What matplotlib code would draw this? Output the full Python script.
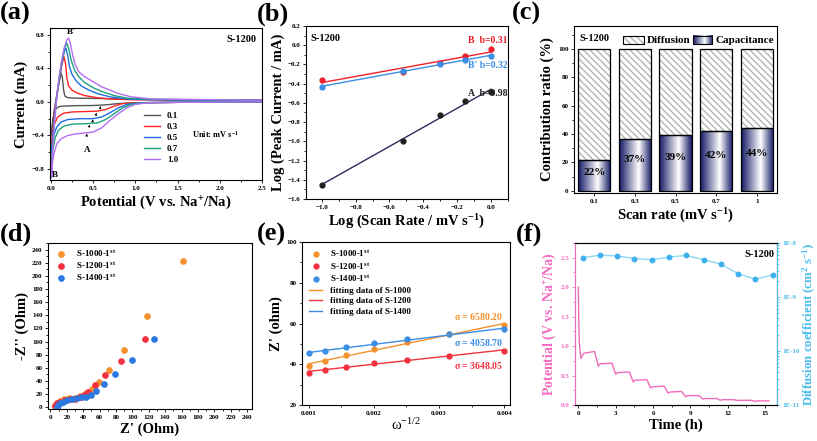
import numpy as np
import matplotlib.pyplot as plt
from matplotlib.colors import LinearSegmentedColormap
from matplotlib.patches import Rectangle
from matplotlib.ticker import MultipleLocator, LogLocator, FuncFormatter, NullFormatter

plt.rcParams['font.family'] = ['Liberation Serif', 'DejaVu Serif']
plt.rcParams['font.weight'] = 'bold'
plt.rcParams['axes.labelweight'] = 'bold'
plt.rcParams['mathtext.default'] = 'regular'
plt.rcParams['axes.linewidth'] = 0.8

# ---------------- data ----------------
# (a) CV curves, one closed loop per scan rate (anodic branch then cathodic branch)
cv_x_01 = [0.01, 0.02, 0.04, 0.08, 0.12, 0.135, 0.15, 0.165, 0.2, 0.3, 0.6, 1.0, 1.5, 2.0, 2.5,
           2.5, 1.5, 1.0, 0.8, 0.65, 0.5, 0.3, 0.15, 0.1, 0.06, 0.04, 0.02, 0.01]
cv_y_01 = [-0.4, -0.27, -0.1, 0.13, 0.345, 0.3, 0.15, 0.07, 0.05, 0.045, 0.04, 0.032, 0.026, 0.022, 0.02,
           0.0, -0.005, -0.01, -0.02, -0.035, -0.043, -0.045, -0.05, -0.055, -0.08, -0.13, -0.25, -0.4]
cv_x_03 = [0.008, 0.02, 0.04, 0.07, 0.10, 0.13, 0.155, 0.175, 0.19, 0.21, 0.25, 0.3, 0.4, 0.55, 0.7, 1.0,
           1.5, 2.0, 2.5, 2.5, 1.5, 1.0, 0.85, 0.75, 0.65, 0.55, 0.4, 0.25, 0.15, 0.08, 0.04, 0.02, 0.008]
cv_y_03 = [-0.58, -0.38, -0.15, 0.08, 0.27, 0.44, 0.54, 0.45, 0.28, 0.19, 0.14, 0.11, 0.075, 0.05, 0.035,
           0.025, 0.022, 0.02, 0.02, 0.0, -0.005, -0.01, -0.02, -0.05, -0.09, -0.11, -0.115, -0.12,
           -0.135, -0.18, -0.27, -0.4, -0.58]
cv_x_05 = [0.008, 0.02, 0.04, 0.07, 0.1, 0.13, 0.16, 0.178, 0.2, 0.22, 0.25, 0.3, 0.36, 0.45, 0.55, 0.7,
           0.9, 1.2, 1.8, 2.5, 2.5, 1.5, 1.05, 0.9, 0.8, 0.7, 0.6, 0.5, 0.35, 0.2, 0.12, 0.07, 0.04,
           0.02, 0.008]
cv_y_05 = [-0.68, -0.45, -0.2, 0.07, 0.28, 0.46, 0.6, 0.64, 0.55, 0.42, 0.33, 0.25, 0.19, 0.14, 0.1,
           0.06, 0.035, 0.025, 0.02, 0.02, 0.0, -0.005, -0.01, -0.03, -0.07, -0.13, -0.18, -0.2, -0.2,
           -0.21, -0.24, -0.3, -0.38, -0.5, -0.68]
cv_x_07 = [0.008, 0.02, 0.04, 0.07, 0.1, 0.13, 0.16, 0.19, 0.21, 0.24, 0.28, 0.33, 0.4, 0.5, 0.6, 0.75,
           0.9, 1.2, 1.8, 2.5, 2.5, 1.5, 1.1, 0.95, 0.85, 0.75, 0.65, 0.55, 0.4, 0.25, 0.15, 0.09, 0.05,
           0.025, 0.008]
cv_y_07 = [-0.78, -0.52, -0.25, 0.05, 0.28, 0.48, 0.63, 0.70, 0.64, 0.5, 0.38, 0.3, 0.23, 0.17, 0.125,
           0.075, 0.045, 0.03, 0.025, 0.02, 0.0, -0.005, -0.01, -0.03, -0.07, -0.14, -0.21, -0.25,
           -0.26, -0.265, -0.29, -0.34, -0.43, -0.56, -0.78]
cv_x_10 = [0.008, 0.02, 0.04, 0.07, 0.1, 0.13, 0.16, 0.19, 0.21, 0.23, 0.26, 0.29, 0.33, 0.4, 0.5, 0.6,
           0.7, 0.8, 0.95, 1.2, 1.6, 2.0, 2.5, 2.5, 1.5, 1.15, 1.0, 0.9, 0.8, 0.7, 0.6, 0.5, 0.4, 0.3,
           0.2, 0.12, 0.07, 0.04, 0.02, 0.008]
cv_y_10 = [-0.9, -0.6, -0.27, 0.05, 0.32, 0.5, 0.65, 0.74, 0.76, 0.7, 0.55, 0.44, 0.36, 0.3, 0.24, 0.18,
           0.14, 0.1, 0.06, 0.035, 0.03, 0.025, 0.02, 0.0, -0.005, -0.01, -0.03, -0.07, -0.14, -0.22,
           -0.31, -0.36, -0.37, -0.38, -0.4, -0.44, -0.5, -0.6, -0.72, -0.9]
cv_labels = ['0.1', '0.3', '0.5', '0.7', '1.0']

# (b) log peak current vs log scan rate
log_rate = [-1.0, -0.523, -0.301, -0.155, 0.0]
logi_B = [-0.36, -0.28, -0.19, -0.11, -0.04]
logi_Bp = [-0.43, -0.27, -0.20, -0.15, -0.11]
logi_A = [-1.45, -1.00, -0.73, -0.58, -0.49]

# (c) capacitive contribution
scan_rates = ['0.1', '0.3', '0.5', '0.7', '1']
capacitance = [22, 36.5, 39, 42, 44]
cap_labels = ['22%', '37%', '39%', '42%', '44%']

# (d) Nyquist plots
z1000_re = [6.1, 8.5, 12.2, 17, 23.2, 29.7, 36.6, 43.5, 50.8, 59.8, 72, 90.2, 117.9, 161.8]
z1000_im = [3.5, 7, 9.6, 12.2, 13.7, 14.7, 17.3, 21.4, 28, 39, 57, 87.5, 138.3, 222]
z1200_re = [5.3, 8.1, 12.2, 18.3, 24.4, 30.5, 36.6, 40.7, 46, 54, 67, 86.6, 115]
z1200_im = [2.5, 6, 8.1, 11.4, 12.7, 12.2, 15.3, 18.8, 23.8, 34, 49.3, 71.2, 103.8]
z1400_re = [8.5, 9.3, 11.4, 15, 20.3, 26.4, 32.5, 38.6, 43.5, 49.6, 56.1, 65.9, 79.3, 99.6, 126.8]
z1400_im = [1, 3.5, 6, 8.8, 11.4, 12.7, 13.7, 15.3, 16.2, 18.8, 25.4, 35.6, 50.4, 72.2, 103.8]

# (e) Z' vs omega^-1/2
omega_inv = [0.001, 0.00126, 0.00158, 0.002, 0.00251, 0.00316, 0.004]
zre_1000 = [39.3, 41.6, 44.5, 47.5, 50.7, 54.8, 59.2]
zre_1200 = [35.8, 37.2, 38.8, 40.7, 42.1, 44.2, 46.6]
zre_1400 = [45.3, 46.5, 48.3, 50.2, 52.2, 54.7, 57.1]
sigma_labels = ['6580.20', '3648.05', '4058.70']

# (f) GITT
gitt_t = [0, 0.03, 0.08, 0.15, 0.22, 0.3, 0.45, 0.8, 1.3, 1.6, 1.75, 2.7, 3.0, 3.15, 4.1, 4.4, 4.55,
          5.5, 5.8, 5.95, 6.9, 7.2, 7.35, 8.3, 8.6, 8.75, 9.7, 10.0, 10.15, 11.1, 11.4, 11.55, 12.5,
          12.8, 12.95, 13.9, 14.2, 14.35, 15.3]
gitt_v = [2.0, 1.45, 1.05, 0.88, 0.79, 0.83, 0.88, 0.89, 0.91, 0.66, 0.70, 0.71, 0.52, 0.55, 0.56,
          0.39, 0.42, 0.43, 0.29, 0.31, 0.32, 0.20, 0.22, 0.23, 0.14, 0.16, 0.16, 0.10, 0.11, 0.11,
          0.08, 0.09, 0.09, 0.075, 0.08, 0.08, 0.06, 0.07, 0.07]
diff_t = [0.35, 1.75, 3.14, 4.5, 5.9, 7.3, 8.66, 10.06, 11.45, 12.82, 14.2, 15.64]
diff_logD = [-8.27, -8.227, -8.24, -8.29, -8.31, -8.26, -8.23, -8.31, -8.39, -8.57, -8.67, -8.59]

# ---------------- figure ----------------
fig = plt.figure(figsize=(8.17, 4.41), dpi=100)
W, H = 817.0, 441.0


def box(l, r, t, b):
    return [l / W, 1 - b / H, (r - l) / W, (b - t) / H]


def style(ax, lw=0.8):
    ax.tick_params(which='both', direction='out', labelsize=5, width=0.6, pad=1.5)
    ax.tick_params(which='major', length=2.5)
    ax.tick_params(which='minor', length=1.5)
    for s in ax.spines.values():
        s.set_linewidth(lw)


ax_a = fig.add_axes(box(50, 262, 28, 180))
ax_b = fig.add_axes(box(306, 508, 26, 199))
ax_c = fig.add_axes(box(574, 777, 26, 193))
ax_d = fig.add_axes(box(48, 252, 243, 409))
ax_e = fig.add_axes(box(302, 510, 242, 405))
ax_f = fig.add_axes(box(575, 777, 243, 405))

for lab, x, y in [('(a)', 0.0, 0.995), ('(b)', 0.314, 0.995), ('(c)', 0.626, 0.995),
                  ('(d)', 0.0, 0.495), ('(e)', 0.314, 0.495), ('(f)', 0.632, 0.495)]:
    fig.text(x, y, lab, fontsize=19, fontweight='bold', ha='left', va='top')

# (a)
cv_colors = ['#555555', '#ff2424', '#1f6fe0', '#1fa27c', '#b36ef2']
cv_sets = [(cv_x_01, cv_y_01), (cv_x_03, cv_y_03), (cv_x_05, cv_y_05),
           (cv_x_07, cv_y_07), (cv_x_10, cv_y_10)]
for (xs, ys), c, lab in zip(cv_sets, cv_colors, cv_labels):
    ax_a.plot(xs, ys, color=c, lw=1.0, label=lab)
for xa, ya in [(0.59, -0.05), (0.54, -0.13), (0.5, -0.21), (0.46, -0.27), (0.43, -0.38)]:
    ax_a.annotate('', xy=(xa, ya), xytext=(xa - 0.015, ya - 0.06),
                  arrowprops=dict(arrowstyle='-|>', color='black', lw=0.5, mutation_scale=3))
ax_a.text(0.43, -0.57, 'A', fontsize=6.5, ha='center', va='center')
ax_a.text(0.24, 0.83, "B'", fontsize=6.5, ha='center', va='center')
ax_a.text(0.015, -0.87, 'B', fontsize=6.5, ha='left', va='center')
ax_a.text(0.975, 0.955, 'S-1200', transform=ax_a.transAxes, fontsize=7.5, ha='right', va='top')
ax_a.text(1.67, -0.39, 'Unit: mV s$^{-1}$', fontsize=6, ha='left', va='center')
ax_a.legend(loc='upper left', bbox_to_anchor=(0.42, 0.48), frameon=False, fontsize=6.5,
            handlelength=1.8, labelspacing=0.3, borderpad=0, handletextpad=0.8)
ax_a.set_xlim(-0.01, 2.5)
ax_a.set_ylim(-0.93, 0.88)
ax_a.xaxis.set_major_locator(MultipleLocator(0.5))
ax_a.xaxis.set_minor_locator(MultipleLocator(0.25))
ax_a.yaxis.set_major_locator(MultipleLocator(0.4))
ax_a.yaxis.set_minor_locator(MultipleLocator(0.2))
ax_a.set_xlabel('Potential (V vs. Na$^{+}$/Na)', fontsize=10.5, labelpad=2)
ax_a.set_ylabel('Current (mA)', fontsize=10.5, labelpad=3)
style(ax_a)

# (b)
xfit = np.array([log_rate[0], log_rate[-1]])
for ys, c, lc, lab, yt in [(logi_B, '#f0202a', '#f0202a', 'B  b=0.31', 0.045),
                           (logi_Bp, '#3a8ee6', '#3a8ee6', "B' b=0.32", -0.215),
                           (logi_A, '#202020', '#2c2c5c', 'A  b=0.98', -0.5)]:
    k, b0 = np.polyfit(log_rate, ys, 1)
    ax_b.plot(xfit, k * xfit + b0, color=lc, lw=1.0)
    ax_b.plot(log_rate, ys, 'o', color=c, ms=3.5)
    ax_b.text(0.095, yt, lab, color=c, fontsize=7, ha='right', va='center')
ax_b.text(0.02, 0.955, 'S-1200', transform=ax_b.transAxes, fontsize=7.5, ha='left', va='top')
ax_b.set_xlim(-1.093, 0.1)
ax_b.set_ylim(-1.6, 0.2)
ax_b.xaxis.set_major_locator(MultipleLocator(0.2))
ax_b.xaxis.set_minor_locator(MultipleLocator(0.1))
ax_b.yaxis.set_major_locator(MultipleLocator(0.2))
ax_b.yaxis.set_minor_locator(MultipleLocator(0.1))
ax_b.set_xlabel('Log (Scan Rate / mV s$^{-1}$)', fontsize=10.5, labelpad=2)
ax_b.set_ylabel('Log (Peak Current / mA)', fontsize=10.5, labelpad=2)
style(ax_b)

# (c)
navy = LinearSegmentedColormap.from_list('cyl', [(0, '#141a66'), (0.6, '#ffffff'), (1, '#141a66')])
grad = np.linspace(0, 1, 64).reshape(1, -1)
pos = np.arange(len(scan_rates))
diffusion = [100 - v for v in capacitance]
hatch_c = '\\\\\\\\\\'
ax_c.bar(pos, diffusion, 0.79, bottom=capacitance, color='white', edgecolor='#b4b4b4',
         hatch=hatch_c, linewidth=0, zorder=1)
ax_c.bar(pos, diffusion, 0.79, bottom=capacitance, fill=False, edgecolor='black', linewidth=0.9, zorder=3)
cap_bars = ax_c.bar(pos, capacitance, 0.79, color='none', edgecolor='black', linewidth=0.9, zorder=3)
for p in cap_bars.patches:
    im = ax_c.imshow(grad, extent=[p.get_x(), p.get_x() + p.get_width(), 0, p.get_height()],
                     aspect='auto', cmap=navy, zorder=2)
    im.set_clip_path(p)
for x, v, t in zip(pos, capacitance, cap_labels):
    ax_c.text(x, v * 0.6, t, fontsize=8, ha='center', va='center', zorder=4)
ax_c.add_patch(Rectangle((0.241, 0.892), 0.103, 0.048, transform=ax_c.transAxes, facecolor='white',
                         edgecolor='#b4b4b4', hatch=hatch_c, linewidth=0, zorder=4))
ax_c.add_patch(Rectangle((0.241, 0.892), 0.103, 0.048, transform=ax_c.transAxes, fill=False,
                         edgecolor='black', linewidth=0.8, zorder=5))
ax_c.imshow(grad, extent=[0.586, 0.68, 0.892, 0.94], transform=ax_c.transAxes, aspect='auto',
            cmap=navy, zorder=4)
ax_c.add_patch(Rectangle((0.586, 0.892), 0.094, 0.048, transform=ax_c.transAxes, fill=False,
                         edgecolor='black', linewidth=0.8, zorder=5))
ax_c.text(0.36, 0.916, 'Diffusion', transform=ax_c.transAxes, fontsize=8, va='center')
ax_c.text(0.695, 0.916, 'Capacitance', transform=ax_c.transAxes, fontsize=8, va='center')
ax_c.text(0.025, 0.955, 'S-1200', transform=ax_c.transAxes, fontsize=7.5, ha='left', va='top')
ax_c.set_xlim(-0.5, 4.5)
ax_c.set_ylim(-1.5, 116)
ax_c.set_xticks(pos, scan_rates)
ax_c.yaxis.set_major_locator(MultipleLocator(20))
ax_c.yaxis.set_minor_locator(MultipleLocator(10))
ax_c.set_xlabel('Scan rate (mV s$^{-1}$)', fontsize=10.5, labelpad=2)
ax_c.set_ylabel('Contribution ratio (%)', fontsize=10.5, labelpad=3)
style(ax_c)

# (d)
for xs, ys, c, lab in [(z1000_re, z1000_im, '#f4902e', 'S-1000-1$^{st}$'),
                       (z1200_re, z1200_im, '#f2303e', 'S-1200-1$^{st}$'),
                       (z1400_re, z1400_im, '#2a78e0', 'S-1400-1$^{st}$')]:
    ax_d.plot(xs, ys, 'o', color=c, ms=3.8, label=lab)
ax_d.legend(loc='upper left', bbox_to_anchor=(0.0, 1.0), frameon=False, fontsize=6.5,
            handlelength=1.5, labelspacing=0.2, handletextpad=1.0, borderpad=0.15)
ax_d.set_xlim(-3, 246)
ax_d.set_ylim(-2.5, 250)
ax_d.xaxis.set_major_locator(MultipleLocator(20))
ax_d.xaxis.set_minor_locator(MultipleLocator(10))
ax_d.yaxis.set_major_locator(MultipleLocator(20))
ax_d.yaxis.set_minor_locator(MultipleLocator(10))
ax_d.set_xlabel("Z' (Ohm)", fontsize=10.5, labelpad=2)
ax_d.set_ylabel("-Z'' (Ohm)", fontsize=10.5, labelpad=2)
style(ax_d)

# (e)
xs_e = np.array([omega_inv[0], omega_inv[-1]])
cols_e = ['#f4902e', '#f2303e', '#3a8ee6']
sets_e = [zre_1000, zre_1200, zre_1400]
names_e = ['1000', '1200', '1400']
for ys, c, n in zip(sets_e, cols_e, names_e):
    ax_e.plot(omega_inv, ys, 'o', color=c, ms=3.5, label='S-%s-1$^{st}$' % n)
for ys, c, n in zip(sets_e, cols_e, names_e):
    k, b0 = np.polyfit(omega_inv, ys, 1)
    ax_e.plot(xs_e, k * xs_e + b0, color=c, lw=1.0, label='fitting data of S-%s' % n)
ax_e.text(0.00399, 63.6, '$\\sigma$ = ' + sigma_labels[0], color=cols_e[0], fontsize=7, ha='right', va='center')
ax_e.text(0.00399, 39.3, '$\\sigma$ = ' + sigma_labels[1], color=cols_e[1], fontsize=7, ha='right', va='center')
ax_e.text(0.00399, 50.5, '$\\sigma$ = ' + sigma_labels[2], color=cols_e[2], fontsize=7, ha='right', va='center')
ax_e.legend(loc='upper left', bbox_to_anchor=(0.0, 1.0), frameon=False, fontsize=6.5,
            handlelength=1.5, labelspacing=0.25, handletextpad=0.8, borderpad=0.25)
ax_e.set_xlim(0.0009, 0.00409)
ax_e.set_ylim(20, 100)
ax_e.xaxis.set_major_locator(MultipleLocator(0.001))
ax_e.xaxis.set_minor_locator(MultipleLocator(0.0005))
ax_e.yaxis.set_major_locator(MultipleLocator(20))
ax_e.yaxis.set_minor_locator(MultipleLocator(10))
ax_e.xaxis.set_major_formatter(FuncFormatter(lambda v, _: '%.3f' % v))
ax_e.set_xlabel('$\\omega^{-1/2}$', fontsize=10.5, fontweight='normal', labelpad=1)
ax_e.set_ylabel("Z' (ohm)", fontsize=10.5, labelpad=2)
style(ax_e)

# (f)
pink = '#f36bbf'
lblue = '#4cbcec'
ax_f.plot(gitt_t, gitt_v, color=pink, lw=1.0)
ax_f.set_xlim(-0.27, 15.95)
ax_f.set_ylim(0, 2.75)
ax_f.xaxis.set_major_locator(MultipleLocator(3))
ax_f.xaxis.set_minor_locator(MultipleLocator(1.5))
ax_f.yaxis.set_major_locator(MultipleLocator(0.5))
ax_f.yaxis.set_minor_locator(MultipleLocator(0.25))
ax_f.set_xlabel('Time (h)', fontsize=10.5, labelpad=2)
ax_f.set_ylabel('Potential (V vs. Na$^{+}$/Na)', fontsize=10, color=pink, labelpad=2)
style(ax_f)
ax_f.tick_params(axis='y', which='both', colors=pink)
ax_f2 = ax_f.twinx()
ax_f2.plot(diff_t, 10 ** np.array(diff_logD), '-o', color='#8fd6f2', mfc='#3fb0ee', mec='#3fb0ee',
           ms=3.2, lw=1.0)
ax_f2.set_yscale('log')
ax_f2.set_ylim(1e-11, 1e-8)
ax_f2.yaxis.set_major_locator(LogLocator(base=10))
ax_f2.yaxis.set_minor_locator(LogLocator(base=10, subs=np.arange(2, 10)))
ax_f2.yaxis.set_minor_formatter(NullFormatter())
ax_f2.yaxis.set_major_formatter(FuncFormatter(lambda v, _: '1E%d' % round(np.log10(v))))
ax_f2.set_ylabel('Diffusion coefficient (cm$^{2}$ s$^{-1}$)', fontsize=9.3, color=lblue, labelpad=1)
style(ax_f2)
ax_f2.tick_params(axis='y', which='both', colors=lblue)
ax_f2.spines['left'].set_color(pink)
ax_f2.spines['right'].set_color(lblue)
ax_f.spines['left'].set_color(pink)
ax_f.text(0.985, 0.955, 'S-1200', transform=ax_f.transAxes, fontsize=7.5, ha='right', va='top')

fig.savefig('out.png', dpi=100)
